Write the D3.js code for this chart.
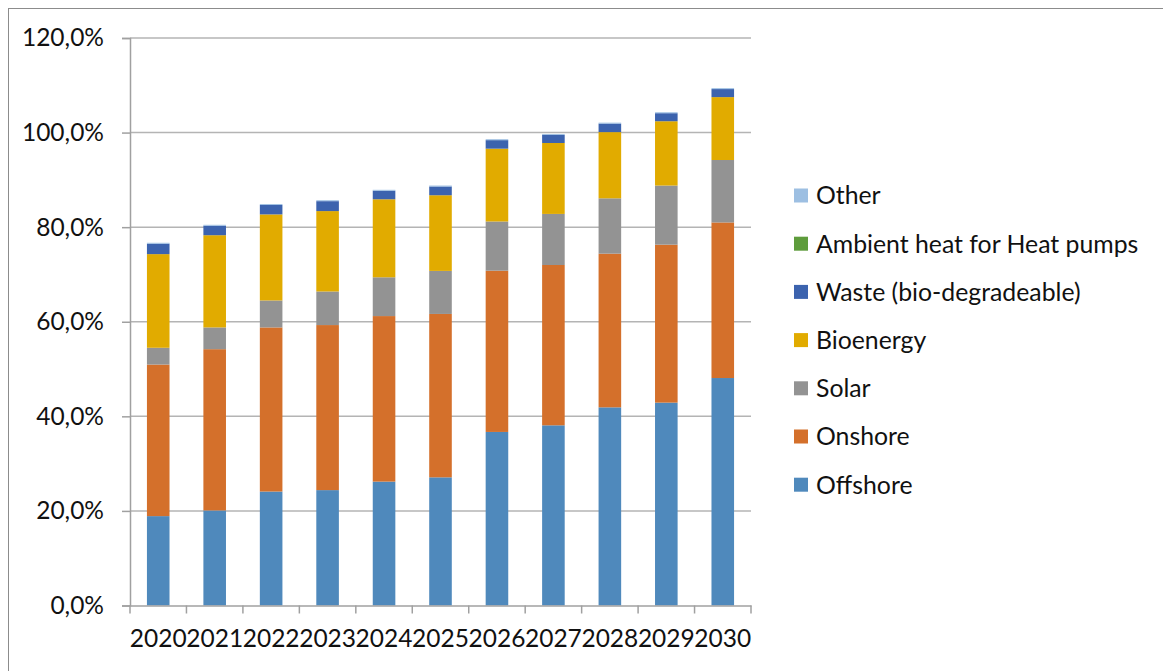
<!DOCTYPE html>
<html>
<head>
<meta charset="utf-8">
<script src="https://cdn.jsdelivr.net/npm/d3@7"></script>
<style>
html,body{margin:0;padding:0;background:#fff;}
svg text{font-family:Lato,"Open Sans",sans-serif;fill:#111;}
</style>
</head>
<body>
<svg id="chart" width="1163" height="671"></svg>
<script>
const years = ["2020","2021","2022","2023","2024","2025","2026","2027","2028","2029","2030"];
const offshore = [18.9,20.1,24.1,24.4,26.2,27.1,36.7,38.1,41.9,42.9,48.1];
const onshore  = [32.05,34.1,34.7,34.9,35.0,34.55,34.1,33.9,32.5,33.4,32.9];
const solar    = [3.55,4.6,5.7,7.1,8.2,9.1,10.4,10.8,11.7,12.5,13.2];
const bioenergy= [19.8,19.5,18.2,17.0,16.5,16.0,15.4,15.0,14.0,13.6,13.3];
const waste    = [2.2,2.0,2.0,2.1,1.8,1.85,1.8,1.7,1.8,1.7,1.7];
const ambient  = [0,0,0,0,0,0,0,0,0,0,0];
const other    = [0.2,0.2,0.2,0.2,0.2,0.2,0.2,0.2,0.2,0.2,0.2];
const yTicks = [0,20,40,60,80,100,120];

const seriesNames = ["Offshore","Onshore","Solar","Bioenergy","Waste (bio-degradeable)","Ambient heat for Heat pumps","Other"];
const seriesValues = [offshore,onshore,solar,bioenergy,waste,ambient,other];
const colors = ["#4f89bc","#d4702b","#939393","#e1ab00","#3c63ae","#5e9c3c","#9dbfe2"];

const svg = d3.select("#chart");

// outer border
svg.append("rect").attr("x",8.5).attr("y",8.5).attr("width",1200).attr("height",700)
  .attr("fill","none").attr("stroke","#8c8c8c").attr("stroke-width",1);

const pLeft = 130, pRight = 751, pTop = 38, pBottom = 605.5;
const x = d3.scaleBand().domain(years).range([pLeft,pRight]).paddingInner(0.6).paddingOuter(0.3);
const y = d3.scaleLinear().domain([0,120]).range([pBottom,pTop]);

// gridlines
svg.append("g").selectAll("line").data(yTicks.filter(d=>d>0)).join("line")
  .attr("x1",pLeft).attr("x2",pRight).attr("y1",d=>y(d)).attr("y2",d=>y(d))
  .attr("stroke","#b4b4b4").attr("stroke-width",1.5);

// stacked data
const table = years.map((yr,i)=>{
  const o = {year:yr};
  seriesNames.forEach((n,k)=>o[n]=seriesValues[k][i]);
  return o;
});
const stack = d3.stack().keys(seriesNames)(table);

svg.append("g").selectAll("g").data(stack).join("g")
  .attr("fill",(d,i)=>colors[i])
  .selectAll("rect").data(d=>d).join("rect")
  .attr("x",d=>x(d.data.year))
  .attr("width",x.bandwidth())
  .attr("y",d=>y(d[1]))
  .attr("height",d=>Math.max(0,y(d[0])-y(d[1])));

// y axis
const fmt = d=>d3.format(".1f")(d).replace(".",",")+"%";
const yAxis = svg.append("g").attr("transform",`translate(${pLeft},0)`)
  .call(d3.axisLeft(y).tickValues(yTicks).tickFormat(fmt).tickSize(8).tickPadding(18));
yAxis.select(".domain").attr("stroke","#a0a0a0").attr("stroke-width",1.5);
yAxis.selectAll(".tick line").attr("stroke","#a0a0a0").attr("stroke-width",1.5);
yAxis.selectAll("text").attr("font-size",24.5).attr("fill","#111")
  .style("font-family","Lato, sans-serif");

// x axis
const xAxis = svg.append("g").attr("transform",`translate(0,${pBottom})`)
  .call(d3.axisBottom(x).tickSize(0).tickPadding(24));
xAxis.select(".domain").attr("stroke","#a0a0a0").attr("stroke-width",1.5);
xAxis.selectAll("text").attr("font-size",24.5).attr("fill","#111")
  .style("font-family","Lato, sans-serif");
// category boundary ticks
const bounds = d3.range(years.length+1).map(i=>pLeft + i*(pRight-pLeft)/years.length);
svg.append("g").selectAll("line").data(bounds).join("line")
  .attr("x1",d=>d).attr("x2",d=>d).attr("y1",pBottom).attr("y2",pBottom+8)
  .attr("stroke","#a0a0a0").attr("stroke-width",1.5);

// legend
const legendItems = seriesNames.map((n,i)=>({name:n,color:colors[i]})).reverse();
const lg = svg.append("g").selectAll("g").data(legendItems).join("g")
  .attr("transform",(d,i)=>`translate(794,${195.5+i*48.2})`);
lg.append("rect").attr("x",0).attr("y",-7).attr("width",14).attr("height",14).attr("fill",d=>d.color);
lg.append("text").attr("x",22).attr("y",0).attr("dy","0.36em").attr("font-size",24.8).text(d=>d.name);
</script>
</body>
</html>
